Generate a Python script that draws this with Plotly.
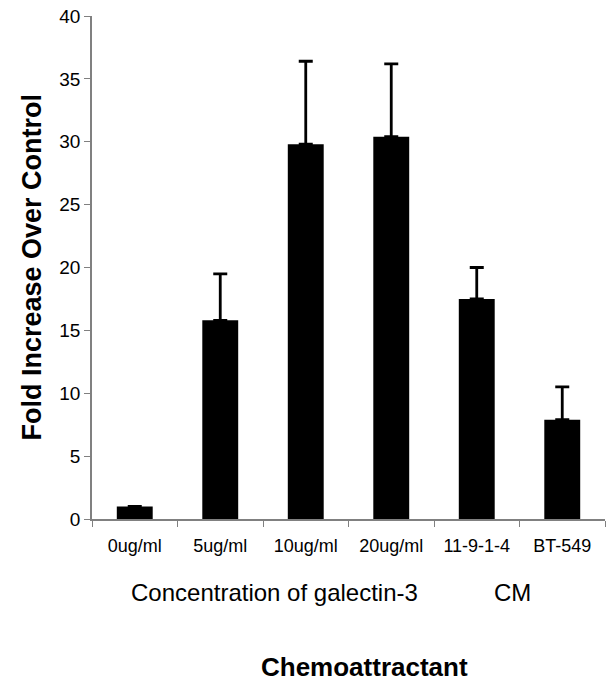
import plotly.graph_objects as go

categories = ["0ug/ml", "5ug/ml", "10ug/ml", "20ug/ml", "11-9-1-4", "BT-549"]
values = [1.0, 15.8, 29.8, 30.4, 17.5, 7.9]
err_up = [None, 3.7, 6.6, 5.8, 2.5, 2.6]
y_ticks = [0, 5, 10, 15, 20, 25, 30, 35, 40]

font_family = "Liberation Sans, Arial, sans-serif"

L, R, T, B = 92, 4, 16, 163
W, H = 609, 682
pw, ph = W - L - R, H - T - B


def px_x(x):
    return (x - L) / pw


def px_y(y):
    return (H - B - y) / ph


err_down = [None if e is None else 0 for e in err_up]

fig = go.Figure()
fig.add_trace(go.Bar(
    x=categories, y=values,
    marker=dict(color="black", line=dict(width=0)),
    error_y=dict(type="data", symmetric=False, array=err_up,
                 arrayminus=err_down, color="black",
                 thickness=2.8, width=7),
))

fig.update_layout(
    width=W, height=H,
    margin=dict(l=L, r=R, t=T, b=B, autoexpand=False),
    paper_bgcolor="white", plot_bgcolor="white",
    bargap=0.58, showlegend=False,
    font=dict(family=font_family, color="black"),
    xaxis=dict(
        type="category", tickson="boundaries", automargin=False,
        showline=True, linecolor="#808080", linewidth=1.5,
        ticks="outside", ticklen=6, tickcolor="#808080",
        tickfont=dict(size=18), showgrid=False,
        ticklabelstandoff=10,
    ),
    yaxis=dict(
        range=[0, 40], tickvals=y_ticks, automargin=False,
        showline=True, linecolor="#808080", linewidth=1.5,
        ticks="outside", ticklen=6, tickcolor="#808080",
        tickfont=dict(size=19), showgrid=False, zeroline=False,
        ticklabelstandoff=0,
    ),
    annotations=[
        dict(text="<b>Fold Increase Over Control</b>", xref="paper", yref="paper",
             x=px_x(31), y=0.5, xanchor="center", yanchor="middle",
             textangle=-90, showarrow=False, font=dict(size=27)),
        dict(text="Concentration of galectin-3", xref="paper", yref="paper",
             x=px_x(274), y=px_y(593), xanchor="center", yanchor="middle",
             showarrow=False, font=dict(size=24)),
        dict(text="CM", xref="paper", yref="paper",
             x=px_x(512), y=px_y(593), xanchor="center", yanchor="middle",
             showarrow=False, font=dict(size=24)),
        dict(text="<b>Chemoattractant</b>", xref="paper", yref="paper",
             x=px_x(364), y=px_y(667), xanchor="center", yanchor="middle",
             showarrow=False, font=dict(size=26)),
    ],
)

fig.write_html("out.html", config={"displayModeBar": False},
               post_script="document.body.style.margin='0';")
